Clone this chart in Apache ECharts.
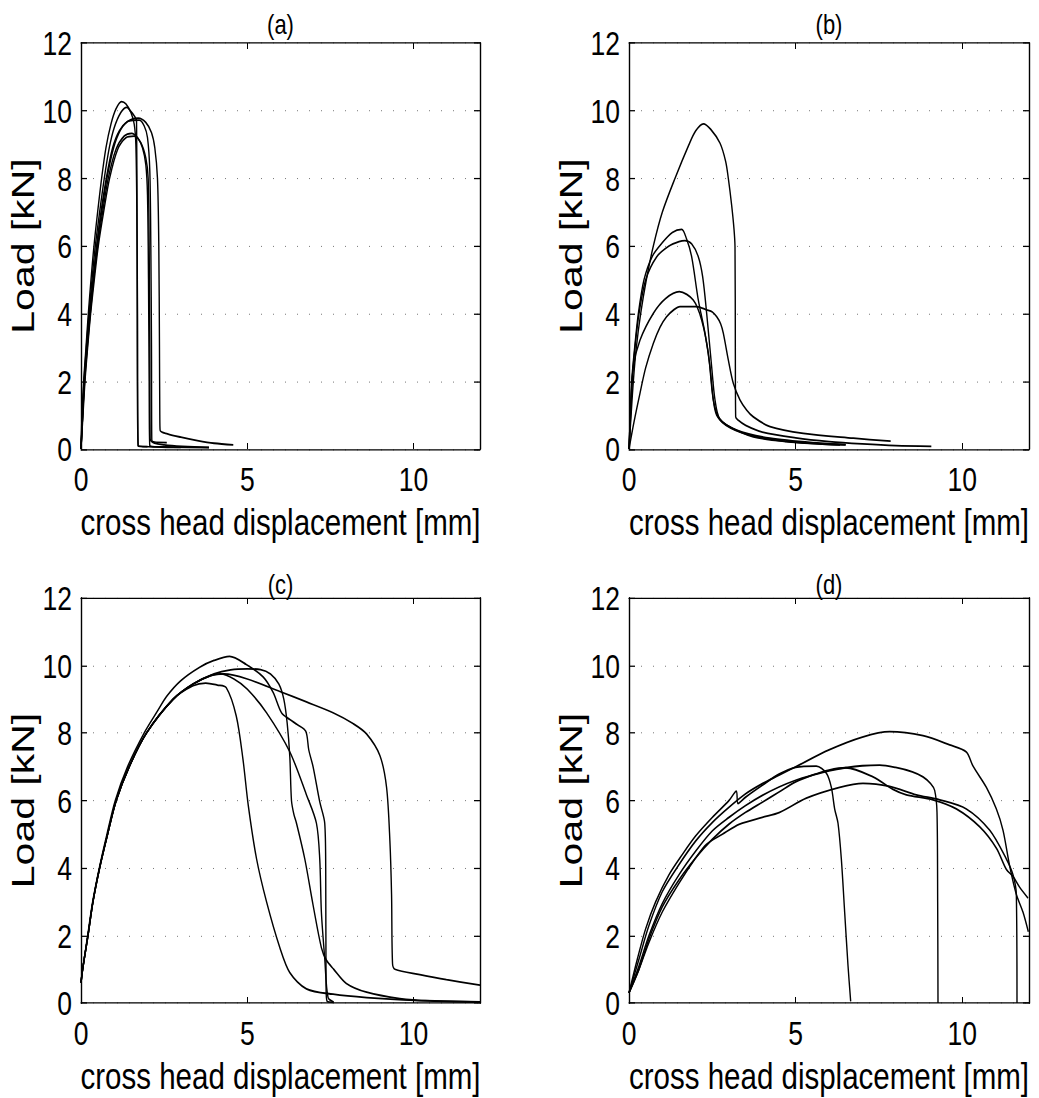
<!DOCTYPE html>
<html>
<head>
<meta charset="utf-8">
<script src="https://cdn.jsdelivr.net/npm/echarts@6/dist/echarts.min.js"></script>
<style>
html,body{margin:0;padding:0;background:#fff;}
body{width:1039px;height:1098px;position:relative;}
#chart{position:absolute;left:0;top:0;width:1039px;transform-origin:0 0;}
</style>
</head>
<body>
<div id="chart"></div>
<script>
// ---- tick labels / titles ----
const panelTitles = ['(a)', '(b)', '(c)', '(d)'];
const xTitle = 'cross head displacement [mm]';
const yTitle = 'Load [kN]';
const xTicks = [0, 5, 10];
const yTicks = [0, 2, 4, 6, 8, 10, 12];

// ---- panel (a) curves: [displacement mm, load kN] ----
const a1 = [[0,0],[0.03,1],[0.08,2],[0.15,3],[0.22,4],[0.3,5],[0.39,6],[0.5,7],[0.62,8],[0.75,8.9],[0.9,9.6],[1.05,10.05],[1.22,10.27],[1.35,10.2],[1.5,9.95],[1.6,9.6],[1.65,9.0],[1.68,7],[1.7,4],[1.72,0.1],[2.5,0.06],[3.85,0.04]];
const a2 = [[0,0],[0.04,1],[0.09,2],[0.16,3],[0.24,4],[0.33,5],[0.43,6],[0.56,7],[0.7,8],[0.85,8.9],[1.0,9.5],[1.2,9.95],[1.38,10.1],[1.48,10.0],[1.6,9.85],[1.67,9.7],[1.72,0.08],[2.0,0.07]];
const a3 = [[0,0],[0.05,1],[0.1,2],[0.18,3],[0.26,4],[0.36,5],[0.47,6],[0.6,7],[0.76,8],[0.95,8.9],[1.15,9.4],[1.4,9.68],[1.72,9.78],[1.95,9.65],[2.12,9.35],[2.22,8.9],[2.3,8.0],[2.34,6],[2.36,3],[2.37,1],[2.38,0.55],[2.6,0.45],[3.0,0.35],[3.5,0.25],[4.0,0.17],[4.58,0.12]];
const a4 = [[0,0],[0.05,1],[0.1,2],[0.18,3],[0.27,4],[0.37,5],[0.48,6],[0.62,7],[0.78,8],[0.98,8.9],[1.2,9.45],[1.45,9.7],[1.75,9.72],[1.9,9.55],[2.0,9.2],[2.07,8.2],[2.1,6],[2.12,3],[2.13,0.25],[2.58,0.19]];
const a5 = [[0,0],[0.05,1],[0.11,2],[0.19,3],[0.28,4],[0.38,5],[0.5,6],[0.65,7],[0.82,8],[1.05,8.85],[1.3,9.25],[1.52,9.33],[1.7,9.2],[1.85,8.9],[1.95,8.4],[2.0,7.5],[2.03,5],[2.05,2],[2.07,0.1],[3.0,0.05]];
const a6 = [[0,0],[0.06,1],[0.12,2],[0.2,3],[0.29,4],[0.4,5],[0.52,6],[0.68,7],[0.86,8],[1.1,8.85],[1.35,9.2],[1.6,9.25],[1.8,9.05],[1.95,8.6],[2.02,8.0],[2.05,6],[2.07,3],[2.08,0.3],[2.5,0.12],[3.85,0.05]];

// ---- panel (b) curves ----
const b1 = [[0,0],[0.05,0.8],[0.13,2],[0.22,3],[0.35,4],[0.52,5],[0.73,6],[1.0,7],[1.38,8],[1.8,9.0],[2.0,9.4],[2.23,9.61],[2.45,9.45],[2.73,9.04],[2.9,8.5],[2.98,8.0],[3.08,7.2],[3.15,6.5],[3.18,5.98],[3.19,3],[3.2,0.95],[3.28,0.85],[3.5,0.7],[4.0,0.5],[5.0,0.33],[6.0,0.22],[7.0,0.15],[8.0,0.1],[9.07,0.08]];
const b2 = [[0,0],[0.04,1],[0.08,2],[0.17,3],[0.28,4],[0.45,5],[0.7,5.7],[1.0,6.1],[1.3,6.4],[1.58,6.49],[1.73,6.2],[1.88,5.68],[2.08,4.4],[2.28,3.42],[2.43,2.43],[2.53,1.45],[2.63,1.0],[2.93,0.71],[3.73,0.36],[4.73,0.22],[6.33,0.12]];
const b3 = [[0,0],[0.04,1],[0.09,2],[0.18,3],[0.3,4],[0.5,5],[0.83,5.68],[1.2,6.0],[1.5,6.13],[1.68,6.16],[1.88,6.06],[2.08,5.68],[2.21,5.09],[2.33,4.01],[2.48,2.43],[2.58,1.45],[2.72,0.9],[3.23,0.56],[4.23,0.32],[5.73,0.17],[6.5,0.13]];
const b4 = [[0,0],[0.05,1],[0.13,2.43],[0.33,3.22],[0.73,4.01],[1.1,4.45],[1.51,4.65],[1.93,4.4],[2.18,3.81],[2.38,2.83],[2.53,1.45],[2.73,0.86],[3.2,0.55],[4.0,0.33],[5.0,0.2],[6.5,0.12]];
const b5 = [[0,0],[0.15,0.8],[0.33,1.65],[0.5,2.4],[0.73,3.12],[0.93,3.6],[1.13,3.91],[1.35,4.12],[1.53,4.21],[2.03,4.21],[2.33,4.11],[2.5,4.05],[2.63,3.91],[2.75,3.7],[2.83,3.42],[2.98,2.63],[3.13,1.94],[3.33,1.45],[3.53,1.15],[3.73,0.95],[4.23,0.66],[5.23,0.46],[6.73,0.32],[7.85,0.23]];

// ---- panel (c) curves ----
const c1 = [[0,0.6],[0.05,1],[0.2,2],[0.35,3],[0.55,4],[0.78,5],[1.03,6],[1.4,7],[1.9,8],[2.3,8.65],[2.57,9.08],[3.0,9.55],[3.57,9.95],[4.0,10.15],[4.47,10.27],[4.97,10.03],[5.48,9.66],[5.78,9.2],[6.03,8.6],[6.28,8.4],[6.5,8.25],[6.76,8.05],[6.85,7.5],[6.98,7.0],[7.18,5.96],[7.33,5.33],[7.36,4],[7.37,0.5],[7.4,0.05],[7.6,0.02]];
const c2 = [[0,0.6],[0.05,1],[0.21,2],[0.36,3],[0.56,4],[0.8,5],[1.06,6],[1.45,7],[1.97,8],[2.77,9.0],[3.37,9.45],[4.0,9.75],[4.5,9.87],[5.0,9.9],[5.4,9.88],[5.7,9.75],[5.95,9.45],[6.1,9.0],[6.2,8.3],[6.28,7.3],[6.33,6.0],[6.4,5.6],[6.48,5.33],[6.73,4.27],[6.98,2.9],[7.23,1.64],[7.38,1.27],[7.6,1.0],[7.98,0.58],[8.59,0.32],[9.59,0.13],[10.5,0.06],[12,0.03]];
const c3 = [[0,0.6],[0.05,1],[0.21,2],[0.36,3],[0.56,4],[0.8,5],[1.06,6],[1.45,7],[1.97,8],[2.77,9.0],[3.37,9.45],[3.9,9.7],[4.2,9.75],[4.6,9.6],[5.0,9.3],[5.58,8.6],[6.28,7.44],[6.78,6.17],[7.08,5.33],[7.18,4.27],[7.23,2.69],[7.33,1.32],[7.43,0.16],[7.6,0.03]];
const c4 = [[0,0.6],[0.05,1],[0.21,2],[0.36,3],[0.56,4],[0.8,5],[1.06,6],[1.45,7],[1.97,8],[2.77,9.0],[3.37,9.4],[3.75,9.48],[4.1,9.42],[4.37,9.34],[4.67,8.5],[4.87,7.23],[5.03,5.86],[5.28,4.27],[5.58,3.0],[5.98,1.64],[6.28,0.9],[6.78,0.42],[7.58,0.26],[8.59,0.16],[10.09,0.08],[12,0.03]];
const c5 = [[0,0.6],[0.05,1],[0.21,2],[0.36,3],[0.56,4],[0.8,5],[1.06,6],[1.45,7],[1.97,8],[2.77,9.0],[3.37,9.45],[3.9,9.7],[4.3,9.75],[5.0,9.6],[5.98,9.23],[6.78,8.92],[7.58,8.6],[8.18,8.28],[8.59,7.97],[8.99,7.33],[9.19,6.39],[9.29,4.8],[9.34,3.22],[9.37,1.16],[9.44,1.0],[10.19,0.84],[10.99,0.69],[12,0.53]];

// ---- panel (d) curves ----
const d1 = [[0,0.3],[0.3,1.3],[0.6,2.3],[1.0,3.3],[1.5,4.1],[2.0,4.8],[2.5,5.35],[3.0,5.8],[3.5,6.2],[4.0,6.5],[4.5,6.75],[5.0,7.0],[6.0,7.5],[7.0,7.88],[7.82,8.04],[8.82,7.92],[9.62,7.65],[10.12,7.44],[10.32,7.02],[10.72,6.39],[11.02,5.75],[11.22,5.12],[11.42,4.06],[11.62,3.22],[11.82,2.69],[11.98,2.11]];
const d2 = [[0,0.3],[0.3,1.1],[0.6,2.0],[1.0,2.95],[1.5,3.8],[2.0,4.5],[2.5,5.1],[3.0,5.5],[3.5,5.85],[4.0,6.15],[4.5,6.4],[5.0,6.6],[5.5,6.75],[6.0,6.88],[6.5,6.97],[7.0,7.03],[7.52,7.05],[8.0,6.98],[8.5,6.85],[8.82,6.7],[9.05,6.5],[9.17,6.3],[9.24,5.65],[9.26,3],[9.27,0]];
const d3 = [[0,0.3],[0.25,1.3],[0.5,2.2],[0.8,3.0],[1.2,3.8],[1.6,4.4],[2.0,4.95],[2.5,5.5],[3.0,6.0],[3.22,6.28],[3.27,5.91],[3.5,6.1],[4.0,6.45],[4.5,6.78],[5.0,6.98],[5.62,7.02],[5.92,6.81],[6.07,6.39],[6.17,5.75],[6.27,5.33],[6.37,4.27],[6.47,2.69],[6.57,1.11],[6.65,0.05]];
const d4 = [[0,0.3],[0.3,1.0],[0.6,1.9],[1.0,2.85],[1.5,3.65],[2.0,4.3],[2.5,4.85],[3.0,5.3],[3.5,5.65],[4.0,5.95],[4.5,6.25],[5.0,6.55],[5.5,6.75],[6.0,6.9],[6.5,6.97],[7.32,6.7],[7.92,6.33],[8.32,6.17],[9.12,6.02],[9.82,5.75],[10.52,5.22],[11.02,4.59],[11.32,3.96],[11.52,3.75],[11.72,3.43],[11.97,3.11]];
const d5 = [[0,0.3],[0.3,1.0],[0.6,1.8],[1.0,2.7],[1.5,3.55],[2.0,4.3],[2.32,4.7],[2.8,5.0],[3.32,5.3],[4.0,5.5],[4.52,5.65],[5.32,6.07],[6.32,6.39],[7.02,6.51],[7.82,6.42],[8.62,6.17],[9.32,6.02],[10.12,5.75],[10.82,5.12],[11.32,4.27],[11.52,3.8],[11.62,3.22],[11.64,0]];

const panelCurves = [[a1,a2,a3,a4,a5,a6],[b1,b2,b3,b4,b5],[c1,c2,c3,c4,c5],[d1,d2,d3,d4,d5]];

// ---- layout (target page pixels; the figure is stretched vertically like the original) ----
const S = 1.28;                 // vertical stretch of the original figure
const PAGE_H = 1098;
const gridBoxes = [
  {left:81, top:43, width:399, height:406},
  {left:629, top:43, width:400, height:406},
  {left:81, top:598, width:399, height:405},
  {left:629, top:598, width:400, height:405}
];
const titleCenters = [24, 584];
const SANS = "'Liberation Sans',Arial,Helvetica,sans-serif";

const el = document.getElementById('chart');
el.style.height = (PAGE_H / S) + 'px';
el.style.transform = 'scaleY(' + S + ')';

const grid = [], xAxis = [], yAxis = [], series = [], title = [];
gridBoxes.forEach((g, i) => {
  grid.push({left:g.left, width:g.width, top:g.top / S, height:g.height / S,
             containLabel:false, outerBoundsMode:'none'});
  const tFont = 22;
  title.push({
    text: panelTitles[i], left: g.left + g.width/2, top: titleCenters[i < 2 ? 0 : 1] / S - tFont/2,
    textAlign: 'center', padding: 0,
    textStyle: {fontFamily: SANS, fontSize: tFont, fontWeight: 'normal', color: '#000'}
  });
  const xTick = {show:true, inside:true, length:6 / S, lineStyle:{color:'#000', width:1}};
  const yTick = {show:true, inside:true, length:6, lineStyle:{color:'#000', width:1}};
  const xLine = {show:true, onZero:false, lineStyle:{color:'#000', width:1.4 / S}};
  const yLine = {show:true, onZero:false, lineStyle:{color:'#000', width:1.4}};
  xAxis.push({
    gridIndex:i, type:'value', position:'bottom', min:xTicks[0], max:12, interval:xTicks[1]-xTicks[0],
    axisLine: xLine, axisTick: xTick, splitLine:{show:false},
    axisLabel:{show:true, showMaxLabel:false, margin:10, fontFamily:SANS, fontSize:26.5, color:'#000'},
    name: xTitle, nameLocation:'middle', nameGap:42,
    nameTextStyle:{fontFamily:SANS, fontSize:29.5, color:'#000'}
  });
  xAxis.push({
    gridIndex:i, type:'value', position:'top', min:xTicks[0], max:12, interval:xTicks[1]-xTicks[0],
    axisLine: xLine, axisTick: xTick, splitLine:{show:false}, axisLabel:{show:false}
  });
  yAxis.push({
    gridIndex:i, type:'value', position:'left', min:yTicks[0], max:yTicks[yTicks.length-1], interval:yTicks[1]-yTicks[0],
    axisLine: yLine, axisTick: yTick,
    splitLine:{show:true, lineStyle:{color:'#666', width:1 / S, type:[1,11]}},
    axisLabel:{show:true, margin:9, fontFamily:SANS, fontSize:26.5, color:'#000'},
    name: yTitle, nameLocation:'middle', nameGap:35, nameRotate:90,
    nameTextStyle:{fontFamily:SANS, fontSize:32, color:'#000'}
  });
  yAxis.push({
    gridIndex:i, type:'value', position:'right', min:yTicks[0], max:yTicks[yTicks.length-1], interval:yTicks[1]-yTicks[0],
    axisLine: yLine, axisTick: yTick, splitLine:{show:false}, axisLabel:{show:false}
  });
  panelCurves[i].forEach((curve, k) => {
    series.push({
      type:'line', name: panelTitles[i] + ' ' + (k+1), xAxisIndex: 2*i, yAxisIndex: 2*i,
      data: curve, showSymbol:false, symbol:'none', smooth:0.3,
      lineStyle:{color:'#000', width:1.4}, silent:true, clip:true
    });
  });
});

const chart = echarts.init(el, null, {renderer:'svg'});
chart.setOption({
  backgroundColor:'#fff', animation:false,
  title, grid, xAxis, yAxis, series, tooltip:{show:false}
});
</script>
</body>
</html>
